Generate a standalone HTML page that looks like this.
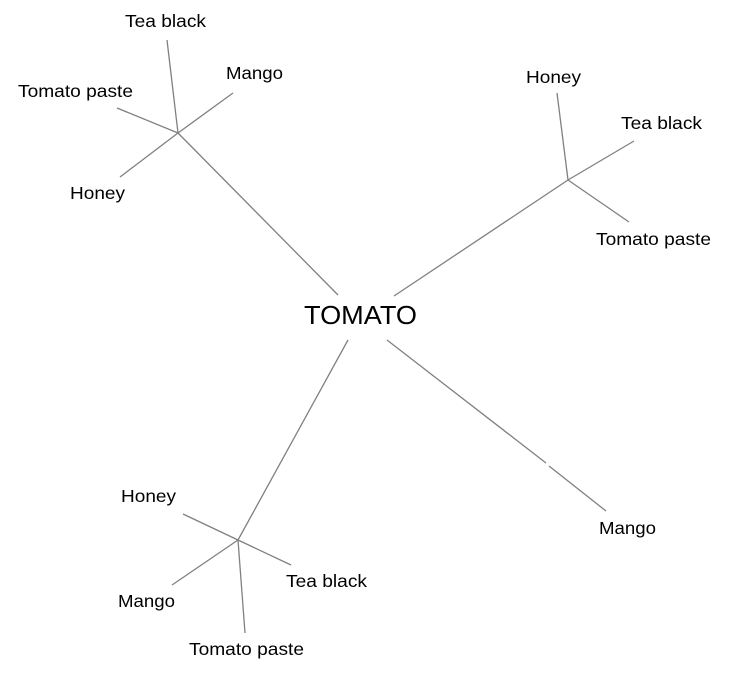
<!DOCTYPE html>
<html><head><meta charset="utf-8"><style>
html,body{margin:0;padding:0;background:#fff;}
svg{display:block;}
text{font-family:"Liberation Sans",Arial,sans-serif;font-size:17.5px;fill:#000;}
</style></head><body>
<svg width="729" height="673" viewBox="0 0 729 673" xmlns="http://www.w3.org/2000/svg">
<g stroke="#808080" stroke-width="1.3" fill="none">
<line x1="338" y1="295" x2="178" y2="133"/>
<line x1="178" y1="133" x2="167" y2="40"/>
<line x1="178" y1="133" x2="233" y2="93"/>
<line x1="178" y1="133" x2="117" y2="108"/>
<line x1="178" y1="133" x2="120" y2="177"/>
<line x1="394" y1="296" x2="568" y2="180"/>
<line x1="568" y1="180" x2="557" y2="93"/>
<line x1="568" y1="180" x2="634" y2="141"/>
<line x1="568" y1="180" x2="629" y2="222"/>
<line x1="348" y1="340" x2="238" y2="540"/>
<line x1="238" y1="540" x2="183" y2="514"/>
<line x1="238" y1="540" x2="291" y2="565"/>
<line x1="238" y1="540" x2="172" y2="585"/>
<line x1="238" y1="540" x2="245" y2="633"/>
<line x1="387" y1="340" x2="546" y2="463"/>
<line x1="549" y1="466" x2="606" y2="511"/>
</g>
<text x="304" y="324" textLength="113" lengthAdjust="spacingAndGlyphs" style="font-size:26px">TOMATO</text>
<text x="125" y="27" textLength="81" lengthAdjust="spacingAndGlyphs">Tea black</text>
<text x="226" y="79" textLength="57" lengthAdjust="spacingAndGlyphs">Mango</text>
<text x="18" y="97" textLength="115" lengthAdjust="spacingAndGlyphs">Tomato paste</text>
<text x="70" y="199" textLength="55" lengthAdjust="spacingAndGlyphs">Honey</text>
<text x="526" y="83" textLength="55" lengthAdjust="spacingAndGlyphs">Honey</text>
<text x="621" y="129" textLength="81" lengthAdjust="spacingAndGlyphs">Tea black</text>
<text x="596" y="245" textLength="115" lengthAdjust="spacingAndGlyphs">Tomato paste</text>
<text x="121" y="502" textLength="55" lengthAdjust="spacingAndGlyphs">Honey</text>
<text x="286" y="587" textLength="81" lengthAdjust="spacingAndGlyphs">Tea black</text>
<text x="118" y="607" textLength="57" lengthAdjust="spacingAndGlyphs">Mango</text>
<text x="189" y="655" textLength="115" lengthAdjust="spacingAndGlyphs">Tomato paste</text>
<text x="599" y="534" textLength="57" lengthAdjust="spacingAndGlyphs">Mango</text>
</svg>
</body></html>
